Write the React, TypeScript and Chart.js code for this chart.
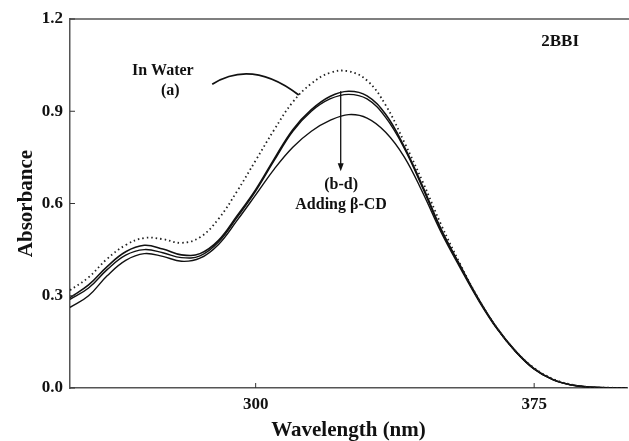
import React, { useEffect, useRef } from "react";
import { Chart, registerables } from "chart.js";

Chart.register(...registerables);

const wavelengths = [250,255,260,265,270,275,280,285,290,295,300,305,310,315,320,325,330,335,340,345,350,355,360,365,370,375,380,385,390,395,400];
const seriesA = [0.318,0.36,0.42,0.465,0.488,0.484,0.472,0.49,0.55,0.64,0.74,0.84,0.93,0.99,1.025,1.03,1.0,0.92,0.80,0.67,0.53,0.405,0.29,0.195,0.12,0.065,0.03,0.011,0.003,0.001,0];
const seriesB = [0.294,0.335,0.395,0.443,0.464,0.452,0.433,0.437,0.48,0.56,0.645,0.745,0.84,0.905,0.948,0.965,0.95,0.89,0.785,0.655,0.515,0.40,0.29,0.195,0.12,0.063,0.028,0.01,0.003,0.001,0];
const seriesC = [0.288,0.325,0.385,0.432,0.45,0.44,0.424,0.43,0.475,0.555,0.64,0.74,0.835,0.9,0.94,0.955,0.94,0.88,0.78,0.65,0.512,0.398,0.288,0.194,0.119,0.062,0.027,0.01,0.003,0.001,0];
const seriesD = [0.262,0.30,0.365,0.415,0.437,0.428,0.412,0.422,0.467,0.545,0.628,0.712,0.783,0.835,0.87,0.889,0.878,0.832,0.752,0.635,0.505,0.392,0.285,0.192,0.118,0.061,0.027,0.01,0.003,0.001,0];
const xTicks = [300, 375];
const yTicks = [0, 0.3, 0.6, 0.9, 1.2];

const FONT = "'Liberation Serif', 'Times New Roman', serif";

const toPoints = (ys: number[]) => wavelengths.map((x, i) => ({ x, y: ys[i] }));

const annotations = {
  id: "annotations",
  afterDraw(chart: any) {
    const { ctx, chartArea, scales } = chart;
    const xs = scales.x, ys = scales.y;
    ctx.save();
    // top border
    ctx.strokeStyle = "#555";
    ctx.lineWidth = 1.5;
    ctx.beginPath();
    ctx.moveTo(chartArea.left, chartArea.top);
    ctx.lineTo(chartArea.right + 2, chartArea.top);
    ctx.stroke();
    // inside ticks
    ctx.strokeStyle = "#333";
    ctx.lineWidth = 1;
    xTicks.forEach((v) => {
      const px = xs.getPixelForValue(v);
      ctx.beginPath();
      ctx.moveTo(px, chartArea.bottom);
      ctx.lineTo(px, chartArea.bottom - 5);
      ctx.stroke();
    });
    yTicks.forEach((v) => {
      const py = ys.getPixelForValue(v);
      ctx.beginPath();
      ctx.moveTo(chartArea.left, py);
      ctx.lineTo(chartArea.left + 5, py);
      ctx.stroke();
    });
    // texts
    ctx.fillStyle = "#111";
    ctx.textAlign = "center";
    ctx.textBaseline = "middle";
    ctx.font = `bold 16px ${FONT}`;
    ctx.fillText("In Water", xs.getPixelForValue(275), ys.getPixelForValue(1.03));
    ctx.fillText("(a)", xs.getPixelForValue(277), ys.getPixelForValue(0.965));
    ctx.fillText("(b-d)", xs.getPixelForValue(323), ys.getPixelForValue(0.66));
    ctx.fillText("Adding β-CD", xs.getPixelForValue(323), ys.getPixelForValue(0.595));
    ctx.font = `bold 17px ${FONT}`;
    ctx.fillText("2BBI", xs.getPixelForValue(382), ys.getPixelForValue(1.125));
    // curved arrow
    ctx.strokeStyle = "#111";
    ctx.lineWidth = 1.8;
    ctx.beginPath();
    ctx.moveTo(xs.getPixelForValue(288.3), ys.getPixelForValue(0.988));
    ctx.quadraticCurveTo(
      xs.getPixelForValue(299), ys.getPixelForValue(1.07),
      xs.getPixelForValue(311.6), ys.getPixelForValue(0.953)
    );
    ctx.stroke();
    // vertical arrow
    const ax = xs.getPixelForValue(322.9);
    const ay0 = ys.getPixelForValue(0.965);
    const ay1 = ys.getPixelForValue(0.705);
    ctx.lineWidth = 1.3;
    ctx.beginPath();
    ctx.moveTo(ax, ay0);
    ctx.lineTo(ax, ay1 - 5);
    ctx.stroke();
    ctx.beginPath();
    ctx.moveTo(ax, ay1);
    ctx.lineTo(ax - 3, ay1 - 8);
    ctx.lineTo(ax + 3, ay1 - 8);
    ctx.closePath();
    ctx.fill();
    ctx.restore();
  },
};

export default function App() {
  const ref = useRef<HTMLCanvasElement>(null);
  useEffect(() => {
    document.body.style.margin = "0";
    const solid = (data: number[], w: number) => ({
      data: toPoints(data),
      borderColor: "#111",
      borderWidth: w,
      pointRadius: 0,
      tension: 0.4,
      fill: false,
    });
    const chart = new Chart(ref.current as HTMLCanvasElement, {
      type: "line",
      data: {
        datasets: [
          { ...solid(seriesA, 1.8), borderDash: [1.5, 3], borderColor: "#222", label: "a" },
          { ...solid(seriesB, 1.6), label: "b" },
          { ...solid(seriesC, 1.4), label: "c" },
          { ...solid(seriesD, 1.4), label: "d" },
        ],
      },
      options: {
        animation: false,
        responsive: false,
        layout: { padding: { top: 19, right: 2, left: 0, bottom: 0 } },
        plugins: { legend: { display: false }, tooltip: { enabled: false } },
        scales: {
          x: {
            type: "linear",
            min: 250,
            max: 400,
            afterBuildTicks: (s: any) => {
              s.ticks = xTicks.map((v) => ({ value: v }));
            },
            afterFit: (s: any) => {
              s.height = 53;
            },
            grid: { display: false, drawTicks: false },
            border: { display: true, color: "#555", width: 1.5 },
            ticks: {
              padding: 6,
              color: "#111",
              font: { family: FONT, size: 17, weight: "bold" },
              callback: (v: any) => String(v),
            },
            title: {
              display: true,
              text: "Wavelength (nm)",
              color: "#111",
              font: { family: FONT, size: 21, weight: "bold", lineHeight: 1 },
              padding: { top: 4, bottom: 0 },
            },
          },
          y: {
            type: "linear",
            min: 0,
            max: 1.2,
            afterBuildTicks: (s: any) => {
              s.ticks = yTicks.map((v) => ({ value: v }));
            },
            afterFit: (s: any) => {
              s.width = 70;
            },
            grid: { display: false, drawTicks: false },
            border: { display: true, color: "#555", width: 1.5 },
            ticks: {
              padding: 7,
              color: "#111",
              font: { family: FONT, size: 17, weight: "bold" },
              callback: (v: any) => Number(v).toFixed(1),
            },
            title: {
              display: true,
              text: "Absorbance",
              color: "#111",
              font: { family: FONT, size: 21, weight: "bold", lineHeight: 1.2 },
              padding: { top: 14, bottom: 0 },
            },
          },
        },
      },
      plugins: [annotations],
    } as any);
    return () => chart.destroy();
  }, []);
  return (
    <div style={{ width: 629, height: 441 }}>
      <canvas ref={ref} width={629} height={441} style={{ display: "block" }} />
    </div>
  );
}
